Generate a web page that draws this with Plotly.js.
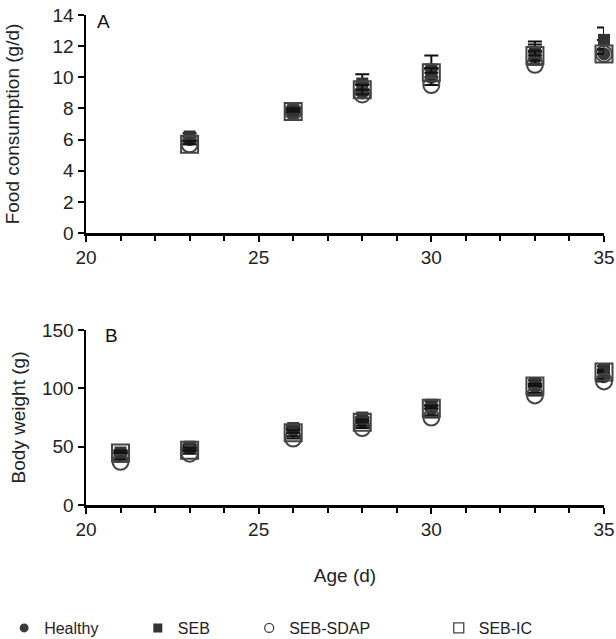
<!DOCTYPE html>
<html><head><meta charset="utf-8">
<script src="https://cdn.plot.ly/plotly-3.0.1.min.js"></script>
<style>body{margin:0;background:#fff}#chart{width:616px;height:639px}</style>
</head><body><div id="chart"></div>
<script>
// Panel A: food consumption (g/d)
var foodAge = [23, 26, 28, 30, 33, 35];
var foodHealthy = [6.0, 7.7, 9.0, 10.0, 11.2, 11.5];
var foodHealthyErr = [0.2, 0.2, 0.5, 0.6, 0.9, 0.9];
var foodSEB = [6.2, 7.9, 9.6, 10.5, 11.6, 12.4];
var foodSEBErr = [0.2, 0.2, 0.6, 0.9, 0.7, 0.8];
var foodSDAP = [5.7, 7.8, 8.9, 9.5, 10.8, 11.5];
var foodSDAPErr = [0.2, 0.2, 0.3, 0.3, 0.3, 0.3];
var foodIC = [5.7, 7.8, 9.2, 10.3, 11.4, 11.5];
var foodICErr = [0.2, 0.2, 0.3, 0.3, 0.3, 0.3];

// Panel B: body weight (g)
var bwAge = [21, 23, 26, 28, 30, 33, 35];
var bwHealthy = [43, 49, 64, 72, 82, 101, 110];
var bwHealthyErr = [2, 2, 2, 3, 3, 3, 3];
var bwSEB = [45, 50, 66, 75, 86, 104, 116];
var bwSEBErr = [2, 2, 2, 3, 3, 3, 3];
var bwSDAP = [37, 44, 57, 66, 75, 94, 106];
var bwSDAPErr = [2, 2, 2, 2, 2, 2, 2];
var bwIC = [44.6, 47, 62, 71, 83, 102, 114];
var bwICErr = [2, 2, 2, 2, 2, 2, 2];

var seriesNames = ['Healthy', 'SEB', 'SEB-SDAP', 'SEB-IC'];
var xTicks = [20, 25, 30, 35];

var styles = [
  {symbol: 'circle', color: '#3a3a3a', size: 13, line: {width: 0}},
  {symbol: 'square', color: '#333333', size: 12, line: {width: 0}},
  {symbol: 'circle-open', color: '#444444', size: 16, line: {width: 2, color: '#444444'}},
  {symbol: 'square-open', color: '#444444', size: 17, line: {width: 2, color: '#444444'}}
];

function errObj(arr) {
  return {type: 'data', symmetric: false, array: arr, arrayminus: arr.map(function(){return 0;}),
          color: '#111', thickness: 2, width: 7};
}

var traces = [];
var food = [[foodHealthy, foodHealthyErr], [foodSEB, foodSEBErr], [foodSDAP, foodSDAPErr], [foodIC, foodICErr]];
var bw = [[bwHealthy, bwHealthyErr], [bwSEB, bwSEBErr], [bwSDAP, bwSDAPErr], [bwIC, bwICErr]];
for (var i = 0; i < 4; i++) {
  var s = styles[i];
  traces.push({x: foodAge, y: food[i][0], error_y: errObj(food[i][1]), type: 'scatter', mode: 'markers',
    xaxis: 'x', yaxis: 'y', showlegend: false, cliponaxis: false, name: seriesNames[i],
    marker: {symbol: s.symbol, color: s.color, size: s.size, line: s.line}});
  traces.push({x: bwAge, y: bw[i][0], error_y: errObj(bw[i][1]), type: 'scatter', mode: 'markers',
    xaxis: 'x2', yaxis: 'y2', showlegend: false, cliponaxis: false, name: seriesNames[i],
    marker: {symbol: s.symbol, color: s.color, size: s.size, line: s.line}});
}
// legend entries
var legendIds = ['legend', 'legend2', 'legend3', 'legend4'];
var legSizes = [9, 9, 9, 10];
for (var i = 0; i < 4; i++) {
  var s = styles[i];
  traces.push({x: [null], y: [null], type: 'scatter', mode: 'markers', name: seriesNames[i],
    legend: legendIds[i], xaxis: 'x2', yaxis: 'y2', showlegend: true,
    marker: {symbol: s.symbol, color: s.color, size: legSizes[i], line: {width: s.line.width ? 1.3 : 0, color: s.color}}});
}

var fam = 'Liberation Sans, Arial, sans-serif';
var font = {family: fam, size: 19, color: '#222'};
var legFont = {family: fam, size: 16, color: '#222'};
function xAxis(anchor, title) {
  var a = {domain: [0, 1], anchor: anchor, range: [20, 35], tickvals: xTicks, ticktext: xTicks.map(String),
    ticks: 'outside', ticklen: 6, tickwidth: 2, tickcolor: '#000', showline: true, linecolor: '#000', linewidth: 2.5,
    showgrid: false, zeroline: false, tickfont: font, automargin: false,
    minor: {dtick: 1, tick0: 20, ticks: 'outside', ticklen: 5, tickwidth: 2, tickcolor: '#000', showgrid: false}};
  if (title) a.title = {text: title, font: font, standoff: 30};
  return a;
}
function legendAt(x) {
  return {x: x, xanchor: 'left', y: -0.251, yanchor: 'middle', orientation: 'h', font: legFont,
    bgcolor: 'rgba(0,0,0,0)', itemclick: false};
}
var layout = {
  width: 616, height: 639,
  margin: {l: 86, r: 12, t: 15, b: 134, autoexpand: false},
  paper_bgcolor: '#fff', plot_bgcolor: '#fff',
  font: font,
  xaxis: xAxis('y', null),
  yaxis: {domain: [0.555, 1], range: [0, 14], dtick: 2, ticks: 'outside', ticklen: 6, tickwidth: 2, tickcolor: '#000',
    showline: true, linecolor: '#000', linewidth: 2.5, showgrid: false, zeroline: false, tickfont: font, automargin: false,
    title: {text: 'Food consumption (g/d)', font: font, standoff: 28}},
  xaxis2: xAxis('y2', 'Age (d)'),
  yaxis2: {domain: [0, 0.357], range: [0, 150], dtick: 50, ticks: 'outside', ticklen: 6, tickwidth: 2, tickcolor: '#000',
    showline: true, linecolor: '#000', linewidth: 2.5, showgrid: false, zeroline: false, tickfont: font, automargin: false,
    title: {text: 'Body weight (g)', font: font, standoff: 12}},
  legend: legendAt(-0.158),
  legend2: legendAt(0.100),
  legend3: legendAt(0.315),
  legend4: legendAt(0.681),
  annotations: [
    {text: 'A', xref: 'paper', yref: 'paper', x: (103 - 86) / 518, y: (505 - 22) / 490, xanchor: 'center', yanchor: 'middle',
     showarrow: false, font: {family: fam, size: 19, color: '#111'}},
    {text: 'B', xref: 'paper', yref: 'paper', x: (111 - 86) / 518, y: (505 - 335) / 490, xanchor: 'center', yanchor: 'middle',
     showarrow: false, font: {family: fam, size: 19, color: '#111'}}
  ]
};
Plotly.newPlot('chart', traces, layout, {displayModeBar: false, staticPlot: true});
</script>
</body></html>
